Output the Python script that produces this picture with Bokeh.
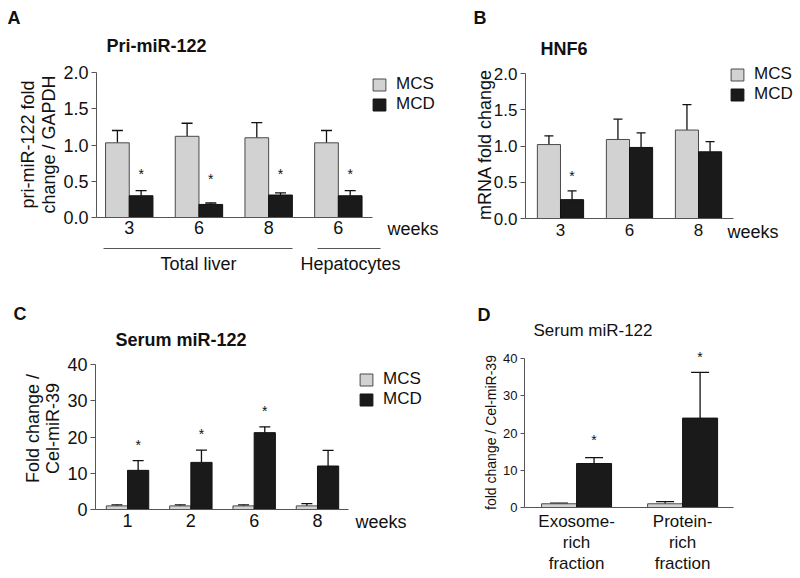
import math
from bokeh.plotting import figure
from bokeh.models import (ColumnDataSource, Range1d, FixedTicker, Label, Legend, LegendItem,
                          Whisker, TeeHead, Arrow, NumeralTickFormatter)
from bokeh.layouts import column, row
from bokeh.embed import file_html
from bokeh.resources import INLINE

FONT = "Liberation Sans"
MCS_COLOR = "#d2d2d2"
MCD_COLOR = "#1a1a1a"
AXIS_COLOR = "#555555"
TEXT_COLOR = "#111111"

# ---------------- data ----------------
a_groups = ["3", "6", "8", "6"]
a_mcs = [1.03, 1.12, 1.10, 1.03]
a_mcs_err = [0.17, 0.18, 0.21, 0.17]
a_mcd = [0.30, 0.18, 0.31, 0.30]
a_mcd_err = [0.07, 0.02, 0.03, 0.07]
a_star = [0.60, 0.53, 0.60, 0.60]

b_groups = ["3", "6", "8"]
b_mcs = [1.02, 1.09, 1.22]
b_mcs_err = [0.12, 0.28, 0.35]
b_mcd = [0.26, 0.98, 0.92]
b_mcd_err = [0.12, 0.20, 0.14]
b_star = [0.59, None, None]

c_groups = ["1", "2", "6", "8"]
c_mcs = [1.0, 1.0, 1.0, 1.0]
c_mcs_err = [0.3, 0.3, 0.3, 0.6]
c_mcd = [10.8, 13.0, 21.2, 12.0]
c_mcd_err = [2.7, 3.4, 1.6, 4.3]
c_star = [17.7, 20.7, 27.3, None]

d_groups = ["Exosome-\nrich\nfraction", "Protein-\nrich\nfraction"]
d_mcs = [1.0, 1.0]
d_mcs_err = [0.2, 0.6]
d_mcd = [11.8, 24.0]
d_mcd_err = [1.6, 12.3]
d_star = [18.0, 40.5]

a_yticks = [0, 0.5, 1.0, 1.5, 2.0]
b_yticks = [0, 0.5, 1.0, 1.5, 2.0]
c_yticks = [0, 10, 20, 30, 40]
d_yticks = [0, 10, 20, 30, 40]


class Panel:
    """A figure whose frame covers the whole panel; axes are pinned with fixed_location."""

    def __init__(self, origin, size, box, xa, ya):
        self.ox, self.oy = origin
        self.w, self.h = size
        self.fl, self.fr, self.ft, self.fb = box
        self.xa, self.ya = xa, ya
        sx = (self.fr - self.fl) / (xa[1] - xa[0])
        sy = (self.fb - self.ft) / (ya[1] - ya[0])
        x0 = xa[0] - (self.fl - self.ox) / sx
        x1 = xa[1] + (self.ox + self.w - self.fr) / sx
        y0 = ya[0] - (self.oy + self.h - self.fb) / sy
        y1 = ya[1] + (self.ft - self.oy) / sy
        p = figure(width=self.w, height=self.h, x_range=Range1d(x0, x1), y_range=Range1d(y0, y1),
                   output_backend="svg", toolbar_location=None,
                   min_border_left=0, min_border_right=0, min_border_top=0, min_border_bottom=0)
        p.outline_line_color = None
        p.xgrid.grid_line_color = None
        p.ygrid.grid_line_color = None
        p.background_fill_color = "white"
        p.border_fill_color = "white"
        for ax in (p.xaxis, p.yaxis):
            ax.axis_line_color = AXIS_COLOR
            ax.minor_tick_line_color = None
            ax.major_label_text_font = FONT
            ax.major_label_text_color = TEXT_COLOR
        p.xaxis.fixed_location = ya[0]
        p.xaxis.bounds = xa
        p.yaxis.fixed_location = xa[0]
        p.yaxis.bounds = ya
        p.xaxis.major_tick_line_color = None
        p.xaxis.major_tick_out = 0
        p.xaxis.major_tick_in = 0
        p.yaxis.major_tick_line_color = AXIS_COLOR
        p.yaxis.major_tick_out = 5
        p.yaxis.major_tick_in = 0
        self.p = p

    def data(self, px, py):
        x = self.xa[0] + (px - self.fl) / (self.fr - self.fl) * (self.xa[1] - self.xa[0])
        y = self.ya[0] + (self.fb - py) / (self.fb - self.ft) * (self.ya[1] - self.ya[0])
        return x, y

    def text(self, txt, px, py, size="18px", bold=False, align="left", angle=0.0):
        x, y = self.data(px, py)
        self.p.add_layout(Label(x=x, y=y, text=txt, text_font=FONT, text_font_size=size,
                                text_font_style="bold" if bold else "normal",
                                text_color=TEXT_COLOR, text_align=align,
                                text_baseline="middle", angle=angle))

    def hline(self, px0, px1, py):
        x0, y0 = self.data(px0, py)
        x1, _ = self.data(px1, py)
        self.p.add_layout(Arrow(end=None, start=None, x_start=x0, y_start=y0, x_end=x1, y_end=y0,
                                line_color=AXIS_COLOR, line_width=1))

    def bars(self, groups, mcs, mcs_err, mcd, mcd_err, stars, bw, cap, yticks, fmt,
             tick_size, star_size="14px"):
        p = self.p
        xs = list(range(1, len(groups) + 1))
        s1 = ColumnDataSource(dict(x=[x - bw / 2 for x in xs], top=mcs,
                                   upper=[v + e for v, e in zip(mcs, mcs_err)]))
        s2 = ColumnDataSource(dict(x=[x + bw / 2 for x in xs], top=mcd,
                                   upper=[v + e for v, e in zip(mcd, mcd_err)]))
        r1 = p.vbar(x="x", top="top", bottom=0, width=bw, source=s1,
                    fill_color=MCS_COLOR, line_color="#4a4a4a", line_width=1)
        r2 = p.vbar(x="x", top="top", bottom=0, width=bw, source=s2,
                    fill_color=MCD_COLOR, line_color="#111111", line_width=1)
        for s in (s1, s2):
            p.add_layout(Whisker(source=s, base="x", lower="top", upper="upper",
                                 dimension="height", line_color="#111111", line_width=1.3,
                                 upper_head=TeeHead(size=cap, line_color="#111111", line_width=1.3),
                                 lower_head=None))
        for x, st in zip(xs, stars):
            if st is not None:
                p.add_layout(Label(x=x + bw / 2, y=st, text="*", text_font=FONT,
                                   text_font_size=star_size, text_color=TEXT_COLOR,
                                   text_align="center", text_baseline="middle"))
        p.xaxis.ticker = FixedTicker(ticks=xs)
        p.xaxis.major_label_overrides = {x: g for x, g in zip(xs, groups)}
        p.xaxis.major_label_text_font_size = tick_size
        p.yaxis.ticker = FixedTicker(ticks=yticks)
        p.yaxis.formatter = NumeralTickFormatter(format=fmt)
        p.yaxis.major_label_text_font_size = tick_size
        return r1, r2

    def legend(self, r1, r2, left, top, height=38):
        leg = Legend(items=[LegendItem(label="MCS", renderers=[r1]),
                            LegendItem(label="MCD", renderers=[r2])],
                     location=(left - self.ox, (self.oy + self.h) - (top + height)),
                     border_line_color=None, background_fill_alpha=0,
                     padding=0, margin=0, spacing=0, glyph_width=16, glyph_height=15,
                     label_standoff=9, label_text_font=FONT, label_text_font_size="17px",
                     label_text_color=TEXT_COLOR, label_height=15)
        self.p.add_layout(leg, "center")


HALF = math.pi / 2
SPLIT = 455

# ---------------- Panel A ----------------
A = Panel((0, 0), (SPLIT, 290), (96, 372, 72, 217), (0.53, 4.49), (0, 2.0))
ra1, ra2 = A.bars(a_groups, a_mcs, a_mcs_err, a_mcd, a_mcd_err, a_star, 0.34, 11,
                  a_yticks, "0.0", "18px")
A.p.xaxis.major_label_standoff = 3
A.p.yaxis.major_label_standoff = 3
A.legend(ra1, ra2, 371, 76)
A.text("A", 7, 17, bold=True)
A.text("Pri-miR-122", 106, 45, bold=True)
A.text("pri-miR-122 fold", 27, 144, angle=HALF, align="center")
A.text("change / GAPDH", 48, 144, angle=HALF, align="center")
A.text("weeks", 387, 228)
A.hline(103, 292, 248)
A.hline(317, 380, 248)
A.text("Total liver", 198, 263, align="center")
A.text("Hepatocytes", 350, 263, align="center")

# ---------------- Panel B ----------------
B = Panel((SPLIT, 0), (798 - SPLIT, 290), (525, 733, 73, 218), (0.493, 3.507), (0, 2.0))
rb1, rb2 = B.bars(b_groups, b_mcs, b_mcs_err, b_mcd, b_mcd_err, b_star, 0.335, 9,
                  b_yticks, "0.0", "17px")
B.p.xaxis.major_label_standoff = 5
B.p.yaxis.major_label_standoff = 3
B.legend(rb1, rb2, 729, 66)
B.text("B", 473, 17, bold=True)
B.text("HNF6", 540, 48, bold=True)
B.text("mRNA fold change", 484, 144, angle=HALF, align="center")
B.text("weeks", 727, 231)

# ---------------- Panel C ----------------
C = Panel((0, 290), (SPLIT, 286), (95, 348, 364, 509), (0.494, 4.49), (0, 40))
rc1, rc2 = C.bars(c_groups, c_mcs, c_mcs_err, c_mcd, c_mcd_err, c_star, 0.335, 11,
                  c_yticks, "0", "18px")
C.p.xaxis.major_label_standoff = 4
C.p.yaxis.major_label_standoff = 3
C.legend(rc1, rc2, 358, 371)
C.text("C", 13, 313, bold=True)
C.text("Serum miR-122", 115, 339, bold=True)
C.text("Fold change /", 32, 428, angle=HALF, align="center")
C.text("Cel-miR-39", 52, 428, angle=HALF, align="center")
C.text("weeks", 355, 521)

# ---------------- Panel D ----------------
D = Panel((SPLIT, 290), (798 - SPLIT, 286), (524, 733, 358, 507), (0.509, 2.48), (0, 40))
D.bars(d_groups, d_mcs, d_mcs_err, d_mcd, d_mcd_err, d_star, 0.33, 18,
       d_yticks, "0", "17px")
D.p.yaxis.major_label_text_font_size = "13px"
D.p.xaxis.major_label_text_line_height = 1.12
D.p.yaxis.major_tick_out = 4
D.p.xaxis.major_label_standoff = 4
D.p.yaxis.major_label_standoff = 3
D.text("D", 477, 314, bold=True)
D.text("Serum miR-122", 533, 330, size="17px")
D.text("fold change / Cel-miR-39", 490, 432, size="14px", angle=HALF, align="center")

layout = column(row(A.p, B.p), row(C.p, D.p))
open("out.html", "w").write(file_html(layout, INLINE))
